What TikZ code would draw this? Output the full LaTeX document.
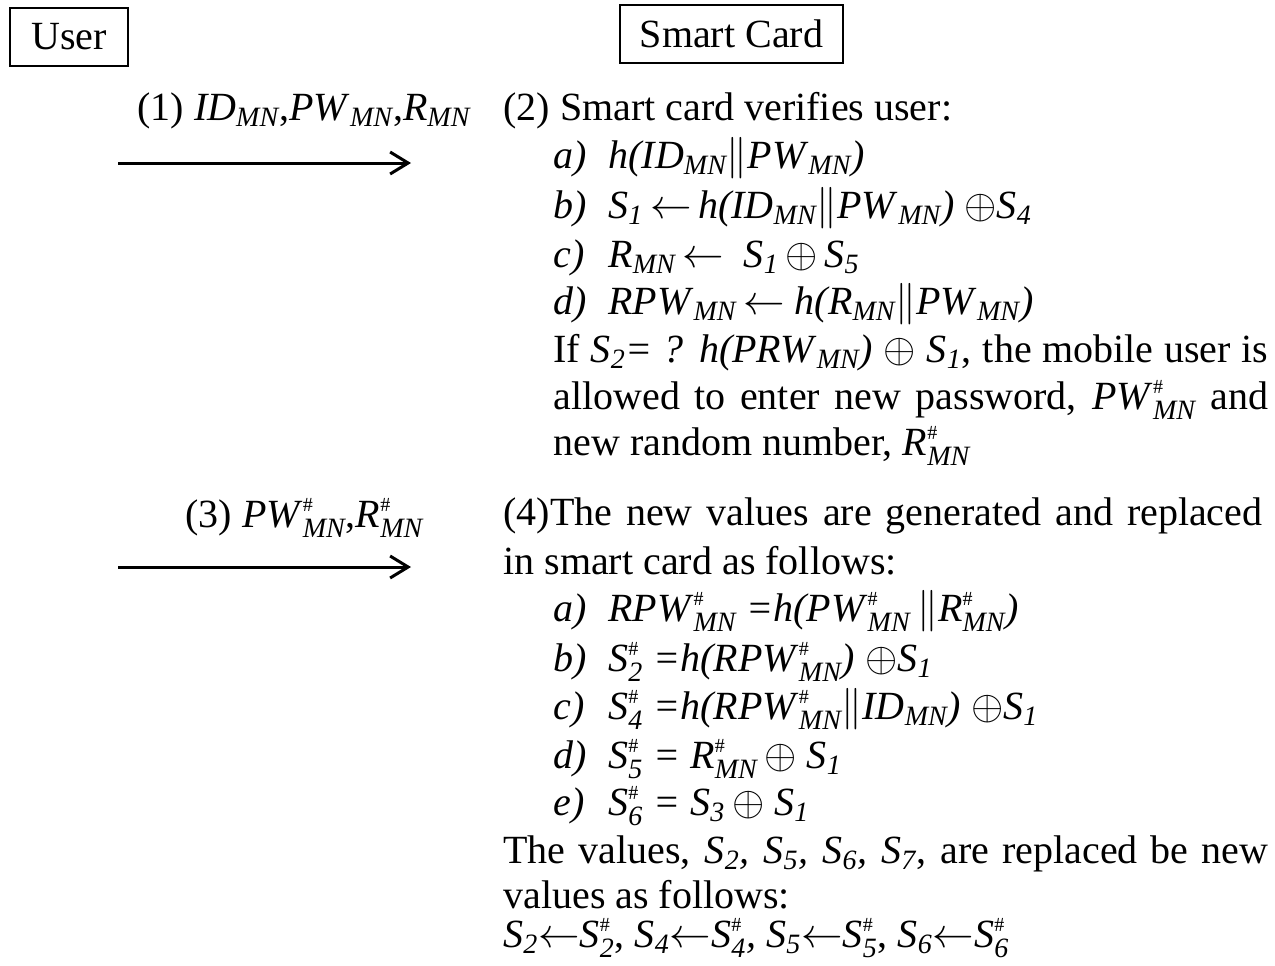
\documentclass[tikz,border=0pt]{standalone}
\usepackage{amsmath}
\usepackage{fontspec}
\setmainfont{Liberation Serif}
\usetikzlibrary{arrows.meta}
\newcommand{\su}[1]{\ensuremath{_{\textit{#1}}}}
\newcommand{\hsu}[1]{\ensuremath{^{\scriptscriptstyle\#}_{\textit{#1}}}}
\newcommand{\xo}{\ensuremath{\oplus}}
\newcommand{\la}{\ensuremath{\leftarrow}}
\newcommand{\dbar}{\ensuremath{\|}}
\begin{document}
\begin{tikzpicture}[x=0.5pt,y=-0.5pt,
  txt/.style={anchor=base west,inner sep=0pt,font=\fontsize{20}{24}\selectfont},
  hdr/.style={draw,line width=1pt,minimum height=29pt,font=\fontsize{20}{24}\selectfont,inner sep=0pt},
  msg/.style={line width=1.5pt,-{Straight Barb[length=9pt,width=11pt,line width=1.5pt]}}]
\useasboundingbox (0,0) rectangle (1275,965);
% headers
\node[hdr,minimum width=59pt] (user) at (69,36.5) {User\hspace{12pt}};
\node[hdr,minimum width=111.5pt] (card) at (731.5,34) {Smart Card};
% messages
\node[txt] (m1) at (137,120) {(1) \textit{ID}\su{MN},\textit{PW}\su{MN},\textit{R}\su{MN}};
\coordinate (a1s) at (118,163);
\coordinate (a1e) at (411,163);
\draw[msg] (a1s) -- (a1e);
\node[txt] (m3) at (185,527) {(3) \textit{PW}\hsu{MN},\textit{R}\hsu{MN}};
\coordinate (a3s) at (118,567);
\coordinate (a3e) at (411,567);
\draw[msg] (a3s) -- (a3e);
% step 2
\node[txt] (s2) at (503,120) {(2) Smart card verifies user:};
\node[txt] (s2a) at (553,168) {\textit{a)}};
\node[txt] (s2ae) at (608,168) {\textit{h(ID}\su{MN}\dbar\textit{PW}\su{MN}\textit{)}};
\node[txt] (s2b) at (553,218) {\textit{b)}};
\node[txt] (s2be) at (608,218) {\textit{S}\su{1}\,\la\,\textit{h(ID}\su{MN}\dbar\textit{PW}\su{MN}\textit{)} \xo\textit{S}\su{4}};
\node[txt] (s2c) at (553,267) {\textit{c)}};
\node[txt] (s2ce) at (608,267) {\textit{R}\su{MN}\,\la\ \ \textit{S}\su{1}\,\xo\,\textit{S}\su{5}};
\node[txt] (s2d) at (553,314) {\textit{d)}};
\node[txt] (s2de) at (608,314) {\textit{RPW}\su{MN}\,\la\ \textit{h(R}\su{MN}\dbar\textit{PW}\su{MN}\textit{)}};
\node[txt] (s2f) at (553,362) {\makebox[357.5pt][s]{If \textit{S}\su{2}\textit{= ? h(PRW}\su{MN}\textit{)} \xo\ \textit{S}\su{1}, the mobile user is}};
\node[txt] (s2g) at (553,409) {\makebox[357.5pt][s]{allowed to enter new password, \textit{PW}\hsu{MN} and}};
\node[txt] (s2h) at (553,455) {new random number, \textit{R}\hsu{MN}};
% step 4
\node[txt] (s4) at (503,525) {\makebox[379.5pt][s]{(4)The new values are generated and replaced}};
\node[txt] (s4b) at (503,574) {in smart card as follows:};
\node[txt] (s4a1) at (553,621) {\textit{a)}};
\node[txt] (s4a1e) at (608,621) {\textit{RPW}\hsu{MN} \textit{=h(PW}\hsu{MN}\,\dbar\textit{R}\hsu{MN}\textit{)}};
\node[txt] (s4b1) at (553,671) {\textit{b)}};
\node[txt] (s4b1e) at (608,671) {\textit{S}\hsu{2} \textit{=h(RPW}\hsu{MN}\textit{)} \xo\textit{S}\su{1}};
\node[txt] (s4c1) at (553,719) {\textit{c)}};
\node[txt] (s4c1e) at (608,719) {\textit{S}\hsu{4} \textit{=h(RPW}\hsu{MN}\dbar\textit{ID}\su{MN}\textit{)} \xo\textit{S}\su{1}};
\node[txt] (s4d1) at (553,768) {\textit{d)}};
\node[txt] (s4d1e) at (608,768) {\textit{S}\hsu{5} \textit{= R}\hsu{MN}\,\xo\ \textit{S}\su{1}};
\node[txt] (s4e1) at (553,815) {\textit{e)}};
\node[txt] (s4e1e) at (608,815) {\textit{S}\hsu{6} \textit{= S}\su{3}\,\xo\ \textit{S}\su{1}};
\node[txt] (s4f) at (503,863) {\makebox[382.5pt][s]{The values, \textit{S}\su{2}\textit{,} \textit{S}\su{5}\textit{,} \textit{S}\su{6}\textit{,} \textit{S}\su{7}, are replaced be new}};
\node[txt] (s4g) at (503,908) {values as follows:};
\node[txt] (s4h) at (503,947) {\textit{S}\su{2}\la\textit{S}\hsu{2}, \textit{S}\su{4}\la\textit{S}\hsu{4}\textit{,} \textit{S}\su{5}\la\textit{S}\hsu{5}, \textit{S}\su{6}\la\textit{S}\hsu{6}};
\end{tikzpicture}
\end{document}
